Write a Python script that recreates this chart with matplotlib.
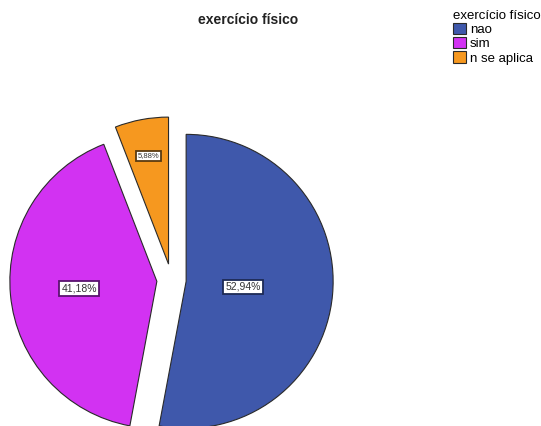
import numpy as np
import matplotlib
matplotlib.use("Agg")
import matplotlib.pyplot as plt

plt.rcParams['font.family'] = ['Liberation Sans', 'DejaVu Sans']

# dados (17 casos)
categorias = ["nao", "sim", "n se aplica"]
contagens = [9, 7, 1]
cores = ["#3f58ab", "#d232f2", "#f6981f"]
bordas_rotulo = ["#1d2a55", "#5a1470", "#5a3a10"]
titulo = "exercício físico"

pct = 100 * np.array(contagens) / sum(contagens)

W, H = 541, 426
fig = plt.figure(figsize=(W / 100, H / 100), dpi=100)
ax = fig.add_axes([0, 0, 1, 1])

# raio do pie em pixels e centro (pixels, y para baixo)
r_px = 147
cx, cy = 171.5, 280

wedges, _ = ax.pie(contagens, colors=cores, startangle=90, counterclock=False,
                   explode=[0.1, 0.1, 0.11], radius=1,
                   wedgeprops=dict(edgecolor="#2a2a2a", linewidth=0.8))

ax.set_xlim(-cx / r_px, (W - cx) / r_px)
ax.set_ylim(-(H - cy) / r_px, cy / r_px)
ax.set_aspect("equal")
ax.axis("off")

# rotulos de porcentagem
dist = [0.39, 0.53, 0.75]
tam = [7.5, 7.5, 5.5]
for w, p, d, ec, fs in zip(wedges, pct, dist, bordas_rotulo, tam):
    ang = np.deg2rad((w.theta1 + w.theta2) / 2)
    x = w.center[0] + d * w.r * np.cos(ang)
    y = w.center[1] + d * w.r * np.sin(ang)
    ax.text(x, y, f"{p:.2f}%".replace(".", ","), ha="center", va="center",
            fontsize=fs, color="#333333",
            bbox=dict(boxstyle="square,pad=0.2", fc="white", ec=ec, lw=1.3))

fig.text(248 / W, 1 - 20 / H, titulo, ha="center", va="center",
         fontsize=10, fontweight="bold", color="#222222")

leg = fig.legend(wedges, categorias, title=titulo, loc="upper left",
                 bbox_to_anchor=(444 / W, 1 - 0.5 / H), frameon=False,
                 fontsize=9.5, title_fontsize=9.5, handlelength=0.95,
                 handleheight=0.95, handletextpad=0.3, labelspacing=0.08,
                 borderpad=0.2, alignment="left")
for h in leg.legend_handles:
    h.set_linewidth(0.8)

fig.savefig("out.png", dpi=100, facecolor="white")
